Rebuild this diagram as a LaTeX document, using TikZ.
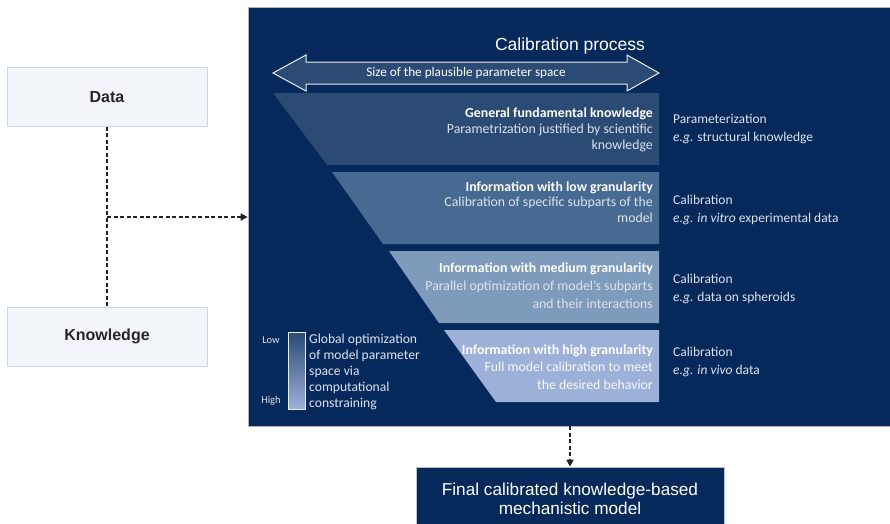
\documentclass[tikz,border=0pt]{standalone}
\usepackage{fontspec}
\setmainfont{Carlito}
\newfontfamily\headfont{Liberation Sans}
\usetikzlibrary{arrows.meta}

\definecolor{navy}{HTML}{06295B}
\definecolor{stepA}{HTML}{2B4A74}
\definecolor{stepB}{HTML}{476A92}
\definecolor{stepC}{HTML}{7F9BBB}
\definecolor{stepD}{HTML}{9DB0D8}
\definecolor{boxfill}{HTML}{F2F5FA}
\definecolor{boxline}{HTML}{C9D6EA}
\definecolor{softtext}{HTML}{DCE3EE}
\definecolor{linkgray}{HTML}{222222}

\begin{document}
\begin{tikzpicture}[x=1pt,y=-1pt,
  inputbox/.style={draw=boxline, line width=0.8pt, fill=boxfill,
    minimum width=200pt, minimum height=59pt, inner sep=0pt,
    font=\headfont\bfseries\fontsize{16}{19}\selectfont, text=black!85},
  steptext/.style={anchor=east, align=right, text=white, inner sep=0pt},
  sidetext/.style={anchor=west, align=left, text=softtext,
    font=\fontsize{13.5}{18}\selectfont, inner sep=0pt},
  dotlink/.style={draw=linkgray, line width=1.4pt, dash pattern=on 4pt off 2.5pt},
  tip/.style={-{Triangle[length=7pt,width=7pt]}}
]
\useasboundingbox (0,0) rectangle (890,523);

% calibration panel
\node[fill=navy, draw=gray!60, line width=0.6pt, minimum width=642pt,
      minimum height=419pt, inner sep=0pt] (panel) at (569,216.5) {};

\node[text=white, font=\headfont\fontsize{17.5}{20}\selectfont, inner sep=0pt]
  (title) at (570,46) {Calibration process};

% double-headed arrow: size of the parameter space
\path[fill=stepA, draw=white!85!gray, line width=1pt, line join=miter]
  (273,73) -- (306,55) -- (306,62) -- (627,62) -- (627,55) -- (659,73)
  -- (627,91) -- (627,84) -- (306,84) -- (306,91) -- cycle;
\node[text=white, font=\fontsize{13.2}{15}\selectfont, inner sep=0pt]
  (size) at (466,73) {Size of the plausible parameter space};

% funnel steps
\fill[stepA] (273,93) -- (659,93) -- (659,165) -- (327,165) -- cycle;
\fill[stepB] (332,172) -- (659,172) -- (659,244) -- (383,244) -- cycle;
\fill[stepC] (389,251) -- (659,251) -- (659,323) -- (439,323) -- cycle;
\fill[stepD] (444,330) -- (659,330) -- (659,402) -- (496,402) -- cycle;

\node[steptext, font=\fontsize{13.8}{16}\selectfont] (s1) at (653,130)
  {\textbf{General fundamental knowledge}\\
   \color{softtext}Parametrization justified by scientific\\
   \color{softtext}knowledge};
\node[steptext, font=\fontsize{13.8}{15.5}\selectfont] (s2) at (653,202)
  {\textbf{Information with low granularity}\\
   \color{softtext}Calibration of specific subparts of the\\
   \color{softtext}model};
\node[steptext, font=\fontsize{13.8}{18}\selectfont] (s3) at (653,286)
  {\textbf{Information with medium granularity}\\
   \color{softtext}Parallel optimization of model's subparts\\
   \color{softtext}and their interactions};
\node[steptext, font=\fontsize{13.8}{17.5}\selectfont] (s4) at (653,367)
  {\textbf{Information with high granularity}\\
   \color{white!92!stepD}Full model calibration to meet\\
   \color{white!92!stepD}the desired behavior};

% data sources per step
\node[sidetext] (d1) at (673,129) {Parameterization\\\textit{e.g.} structural knowledge};
\node[sidetext] (d2) at (673,210) {Calibration\\\textit{e.g. in vitro} experimental data};
\node[sidetext] (d3) at (673,289) {Calibration\\\textit{e.g.} data on spheroids};
\node[sidetext] (d4) at (673,362) {Calibration\\\textit{e.g. in vivo} data};

% granularity scale
\shadedraw[top color=stepA, bottom color=stepD, draw=white!80!stepD, line width=0.9pt]
  (288,332) rectangle (305,409);
\node[text=softtext, font=\fontsize{10.5}{12}\selectfont, inner sep=0pt] (low) at (271,340) {Low};
\node[text=softtext, font=\fontsize{10.5}{12}\selectfont, inner sep=0pt] (high) at (271,401) {High};
\node[anchor=north west, align=left, text=softtext, inner sep=0pt,
      font=\fontsize{13.6}{16}\selectfont] (glob) at (309,334)
  {Global optimization\\of model parameter\\space via\\computational\\constraining};

% inputs
\node[inputbox] (data) at (107,97) {Data};
\node[inputbox] (know) at (107,336.5) {Knowledge};

% final model
\node[fill=navy, draw=gray!50, line width=0.6pt, minimum width=308pt,
      minimum height=63pt, inner sep=0pt, align=center, text=white,
      font=\headfont\fontsize{17.2}{19}\selectfont] (final) at (570,498.5)
  {Final calibrated knowledge-based\\mechanistic model};

% connectors
\draw[dotlink] (data.south) -- (know.north);
\coordinate (join) at (107,217);
\draw[dotlink, tip] (join) -- (join -| panel.west);
\draw[dotlink, tip] (final.north |- panel.south) -- (final.north);
\end{tikzpicture}
\end{document}
